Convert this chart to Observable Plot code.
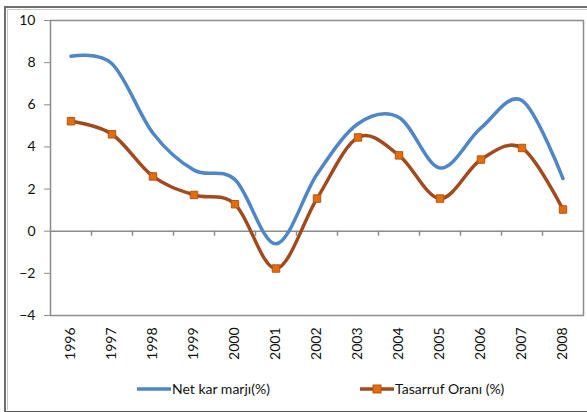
<!DOCTYPE html>
<html>
<head>
<meta charset="utf-8">
<script src="https://cdn.jsdelivr.net/npm/d3@7"></script>
<script src="https://cdn.jsdelivr.net/npm/@observablehq/plot@0.6"></script>
<style>
  html, body { margin: 0; padding: 0; background: #fff; }
  #wrap { position: relative; width: 587px; height: 412px; overflow: hidden; font-family: Lato, "Open Sans", sans-serif; }
  #outer { position: absolute; left: 4px; top: 6px; width: 600px; height: 403px; border-left: 2px solid #6e6e6e; border-top: 2px solid #6e6e6e; border-bottom: 2px solid #555; box-sizing: content-box; }
  #outer2 { position: absolute; left: 7px; top: 9px; width: 600px; height: 400px; border-left: 1px solid #c8c8c8; border-top: 1px solid #c8c8c8; }
  #chart { position: absolute; left: 0; top: 0; }
  .leg { position: absolute; top: 380px; font-size: 14px; color: #111; display: flex; align-items: center; white-space: nowrap; }
  .leg svg { margin-right: 1px; }
</style>
</head>
<body>
<div id="wrap">
  <div id="outer"></div>
  <div id="outer2"></div>
  <div id="chart"></div>
  <div class="leg" id="leg1" style="left:137px"></div>
  <div class="leg" id="leg2" style="left:360px"></div>
</div>
<script>
const years = [1996, 1997, 1998, 1999, 2000, 2001, 2002, 2003, 2004, 2005, 2006, 2007, 2008];
const netKarMarji = [8.3, 7.95, 4.65, 2.9, 2.45, -0.6, 2.7, 5.1, 5.4, 3.0, 4.9, 6.2, 2.5];
const tasarrufOrani = [5.22, 4.6, 2.6, 1.72, 1.28, -1.77, 1.55, 4.45, 3.6, 1.55, 3.4, 3.95, 1.03];
const yTicks = [-4, -2, 0, 2, 4, 6, 8, 10];
const seriesNames = ["Net kar marjı(%)", "Tasarruf Oranı (%)"];

const blue = "#4f86c6";
const brown = "#a04a1e";
const orange = "#e46c0a";

const dataA = years.map((y, i) => ({year: y, v: netKarMarji[i]}));
const dataB = years.map((y, i) => ({year: y, v: tasarrufOrani[i]}));
const bounds = years.slice(0, -1).map(y => y + 0.5);

const plot = Plot.plot({
  width: 587,
  height: 412,
  marginLeft: 50,
  marginRight: 4,
  marginTop: 20,
  marginBottom: 97,
  style: {fontFamily: "Lato, 'Open Sans', sans-serif", fontSize: "14px", color: "#111", background: "transparent"},
  x: {
    type: "linear",
    domain: [years[0] - 0.5, years[years.length - 1] + 0.5],
    ticks: years,
    tickFormat: d => String(d),
    tickRotate: -90,
    tickSize: 0,
    tickPadding: 12,
    label: null
  },
  y: {
    domain: [yTicks[0], yTicks[yTicks.length - 1]],
    ticks: yTicks,
    tickSize: 6,
    tickPadding: 9,
    label: null
  },
  marks: [
    Plot.frame({stroke: "#8c8c8c", strokeWidth: 1.5}),
    Plot.ruleY([0], {stroke: "#8c8c8c", strokeWidth: 1.5}),
    Plot.ruleX(bounds, {x: d => d, y1: 0, y2: 0, insetBottom: -5, stroke: "#8c8c8c", strokeWidth: 1.5}),
    Plot.line(dataA, {x: "year", y: "v", stroke: blue, strokeWidth: 3.5, curve: "cardinal"}),
    Plot.line(dataB, {x: "year", y: "v", stroke: brown, strokeWidth: 3.5, curve: "cardinal"}),
    Plot.dot(dataB, {x: "year", y: "v", symbol: "square", r: 4.2, fill: orange, stroke: "#b0561a", strokeWidth: 1})
  ]
});
plot.style.display = "block";
document.getElementById("chart").appendChild(plot);

plot.querySelectorAll("[aria-label='y-axis'] line, [aria-label='y-axis tick'] path").forEach(e => e.setAttribute("stroke", "#8c8c8c"));

const leg1 = document.getElementById("leg1");
leg1.innerHTML = `<svg width="34" height="10"><line x1="0" y1="5" x2="34" y2="5" stroke="${blue}" stroke-width="3.5"/></svg><span>${seriesNames[0]}</span>`;
const leg2 = document.getElementById("leg2");
leg2.innerHTML = `<svg width="34" height="10"><line x1="0" y1="5" x2="34" y2="5" stroke="${brown}" stroke-width="3.5"/><rect x="13" y="1" width="8" height="8" fill="${orange}" stroke="#b0561a"/></svg><span>${seriesNames[1]}</span>`;
</script>
</body>
</html>
